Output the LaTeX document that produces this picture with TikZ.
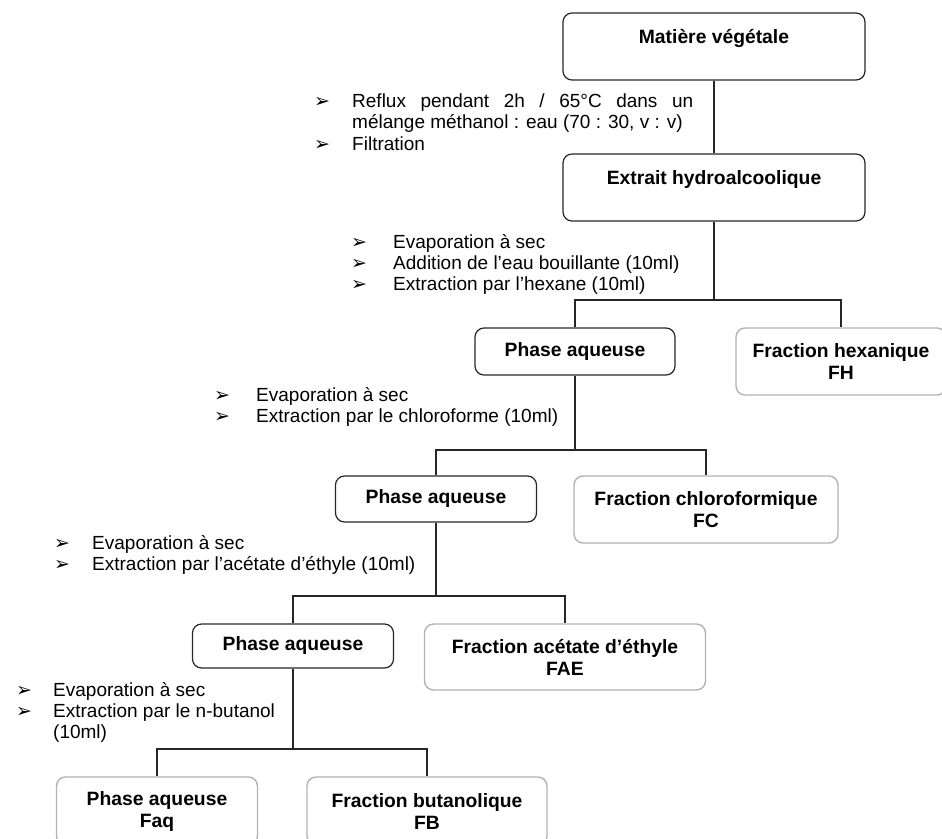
\documentclass[tikz,border=0pt]{standalone}
\usepackage{fontspec}
\setmainfont{Liberation Sans}
\newfontfamily\dejavu{DejaVu Sans}
\newcommand\bulglyph{{\dejavu\fontsize{19}{19}\selectfont ➢}}
\begin{document}
\begin{tikzpicture}[x=1pt,y=-1pt,
  darkbox/.style={draw=black!85, line width=1.2pt, rounded corners=9pt, inner sep=0pt,
     font=\fontsize{19.3}{22}\selectfont\bfseries, align=center},
  lightbox/.style={draw=black!30, line width=1.4pt, rounded corners=9pt, inner sep=0pt,
     font=\fontsize{19.3}{22}\selectfont\bfseries, align=center},
  topbox/.style={darkbox, text height=30.5pt, text depth=36.5pt, minimum width=302pt},
  steptext/.style={anchor=base west, inner sep=0pt, font=\fontsize{19}{21}\selectfont},
  bul/.style={anchor=base west, inner sep=0pt},
  link/.style={draw=black!85, line width=1.1pt}
]
\useasboundingbox (0,0) rectangle (942,838);
\clip (0,0) rectangle (942,838);

% boxes
\node[topbox] (A) at (714,46.5) {Matière végétale};
\node[topbox] (B) at (714,187.5) {Extrait hydroalcoolique};
\node[darkbox, minimum width=200pt, minimum height=47pt] (C) at (575,351.5) {Phase aqueuse};
\node[lightbox, minimum width=210pt, minimum height=67pt] (D) at (841,361.5) {Fraction hexanique\\FH};
\node[darkbox, minimum width=201pt, minimum height=46pt] (E) at (436,499) {Phase aqueuse};
\node[lightbox, minimum width=264pt, minimum height=67pt] (F) at (706,509.5) {Fraction chloroformique\\FC};
\node[darkbox, minimum width=201pt, minimum height=44pt] (G) at (293,646) {Phase aqueuse};
\node[lightbox, minimum width=281pt, minimum height=66pt] (H) at (565,657) {Fraction acétate d’éthyle\\FAE};
\node[lightbox, minimum width=201pt, minimum height=68pt] (I) at (157,811) {Phase aqueuse\\Faq};
\node[lightbox, minimum width=240pt, minimum height=68pt] (J) at (427,811) {Fraction butanolique\\FB};

% connectors
\coordinate (s1) at (714,300);
\coordinate (s2) at (575,450);
\coordinate (s3) at (436,596);
\coordinate (s4) at (293,749);
\draw[link] (A) -- (B);
\draw[link] (B.south) -- (s1);
\draw[link] (C.north) |- (s1) -| (D.north);
\draw[link] (C.south) -- (s2);
\draw[link] (E.north) |- (s2) -| (F.north);
\draw[link] (E.south) -- (s3);
\draw[link] (G.north) |- (s3) -| (H.north);
\draw[link] (G.south) -- (s4);
\draw[link] (I.north) |- (s4) -| (J.north);

% step 1
\node[bul] (b11) at (314,107.5) {\bulglyph};
\node[steptext] (t11) at (352,107.5) {\hbox to 341pt{Reflux\hfill pendant\hfill 2h\hfill /\hfill 65°C\hfill dans\hfill un}};
\node[steptext] (t12) at (352,128.5) {mélange méthanol : eau (70 : 30, v : v)};
\node[bul] (b12) at (314,150.5) {\bulglyph};
\node[steptext] (t13) at (352,150.5) {Filtration};

% step 2
\node[bul] (b21) at (351,248.5) {\bulglyph};
\node[steptext] (t21) at (393,248.5) {Evaporation à sec};
\node[bul] (b22) at (351,269.5) {\bulglyph};
\node[steptext] (t22) at (393,269.5) {Addition de l’eau bouillante (10ml)};
\node[bul] (b23) at (351,290.5) {\bulglyph};
\node[steptext] (t23) at (393,290.5) {Extraction par l’hexane (10ml)};

% step 3
\node[bul] (b31) at (214,401.5) {\bulglyph};
\node[steptext] (t31) at (256,401.5) {Evaporation à sec};
\node[bul] (b32) at (214,422) {\bulglyph};
\node[steptext] (t32) at (256,422) {Extraction par le chloroforme (10ml)};

% step 4
\node[bul] (b41) at (54,549.5) {\bulglyph};
\node[steptext] (t41) at (92,549.5) {Evaporation à sec};
\node[bul] (b42) at (54,570.5) {\bulglyph};
\node[steptext] (t42) at (92,570.5) {Extraction par l’acétate d’éthyle (10ml)};

% step 5
\node[bul] (b51) at (16,696.5) {\bulglyph};
\node[steptext] (t51) at (53,696.5) {Evaporation à sec};
\node[bul] (b52) at (16,717.5) {\bulglyph};
\node[steptext] (t52) at (53,717.5) {Extraction par le n-butanol};
\node[steptext] (t53) at (53,738.5) {(10ml)};
\end{tikzpicture}
\end{document}
